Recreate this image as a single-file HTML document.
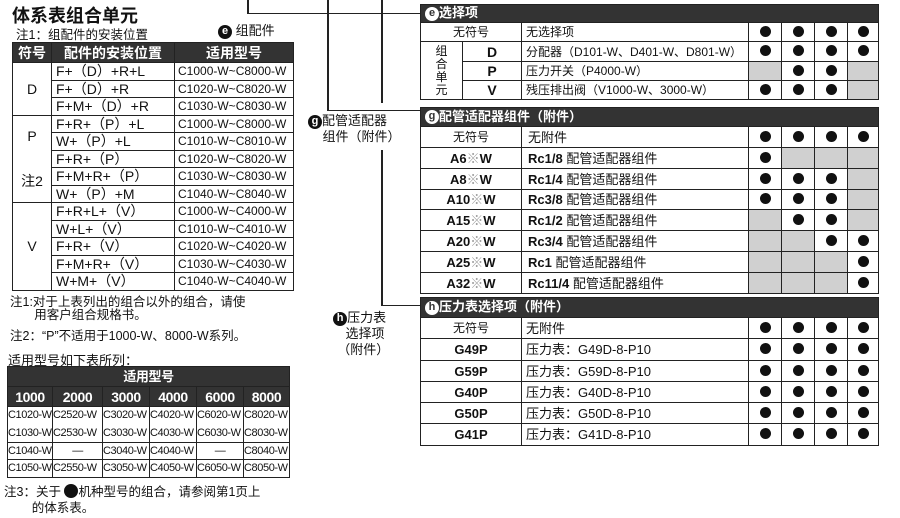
<!DOCTYPE html>
<html><head><meta charset="utf-8"><style>
*{margin:0;padding:0;box-sizing:border-box}
body{width:900px;height:518px;background:#fff;position:relative;overflow:hidden;font-family:"Liberation Sans","Noto Sans CJK SC",sans-serif;color:#111}
.a{position:absolute;white-space:nowrap}
table{border-collapse:collapse;table-layout:fixed;position:absolute}
td{border:1px solid #222;padding:0;overflow:hidden;white-space:nowrap;line-height:1}
.hd td{background:#333;color:#fff;font-weight:bold;text-align:center;border-color:#222}
.c{text-align:center}
.g{background:#d0d0d0}
.dot{display:inline-block;width:11px;height:11px;border-radius:50%;background:#111}
.ln{position:absolute;background:#222}
.circ{display:inline-block;width:14px;height:14px;border-radius:50%;background:#111;color:#fff;font-size:11px;font-weight:bold;text-align:center;line-height:13px;vertical-align:middle}
.hh td{background:#333;color:#fff;font-weight:bold;text-align:left;padding-left:4px;font-size:13px}
.lt td.p{padding-left:4px;font-size:14px}
</style></head><body>

<div class="a" style="left:12px;top:2px;font-size:18px;font-weight:bold">体系表组合单元</div>
<div class="a" style="left:16px;top:24px;font-size:12.5px">注1：组配件的安装位置</div>
<div class="a" style="left:218px;top:20px;font-size:13px"><span class="circ">e</span> 组配件</div>

<table class="lt" style="left:12px;top:42px;width:281px;font-size:13px;border:1.5px solid #222">
<colgroup><col style="width:39px"><col style="width:123px"><col style="width:119px"></colgroup>
<tr class="hd" style="height:20px"><td style="font-size:14px">符号</td><td style="font-size:14px">配件的安装位置</td><td style="font-size:14px">适用型号</td></tr>
<tr style="height:17.5px"><td rowspan="3" class="c" style="font-size:14px">D</td><td class="p">F+（D）+R+L</td><td style="padding-left:3px;font-size:12px">C1000-W~C8000-W</td></tr>
<tr style="height:17.5px"><td class="p">F+（D）+R</td><td style="padding-left:3px;font-size:12px">C1020-W~C8020-W</td></tr>
<tr style="height:17.5px"><td class="p">F+M+（D）+R</td><td style="padding-left:3px;font-size:12px">C1030-W~C8030-W</td></tr>
<tr style="height:17.5px"><td rowspan="5" class="c" style="line-height:1.6;font-size:14px">P<br><br>注2</td><td class="p">F+R+（P）+L</td><td style="padding-left:3px;font-size:12px">C1000-W~C8000-W</td></tr>
<tr style="height:17.5px"><td class="p">W+（P）+L</td><td style="padding-left:3px;font-size:12px">C1010-W~C8010-W</td></tr>
<tr style="height:17.5px"><td class="p">F+R+（P）</td><td style="padding-left:3px;font-size:12px">C1020-W~C8020-W</td></tr>
<tr style="height:17.5px"><td class="p">F+M+R+（P）</td><td style="padding-left:3px;font-size:12px">C1030-W~C8030-W</td></tr>
<tr style="height:17.5px"><td class="p">W+（P）+M</td><td style="padding-left:3px;font-size:12px">C1040-W~C8040-W</td></tr>
<tr style="height:17.5px"><td rowspan="5" class="c" style="font-size:14px">V</td><td class="p">F+R+L+（V）</td><td style="padding-left:3px;font-size:12px">C1000-W~C4000-W</td></tr>
<tr style="height:17.5px"><td class="p">W+L+（V）</td><td style="padding-left:3px;font-size:12px">C1010-W~C4010-W</td></tr>
<tr style="height:17.5px"><td class="p">F+R+（V）</td><td style="padding-left:3px;font-size:12px">C1020-W~C4020-W</td></tr>
<tr style="height:17.5px"><td class="p">F+M+R+（V）</td><td style="padding-left:3px;font-size:12px">C1030-W~C4030-W</td></tr>
<tr style="height:17.5px"><td class="p">W+M+（V）</td><td style="padding-left:3px;font-size:12px">C1040-W~C4040-W</td></tr>
</table>

<div class="a" style="left:10px;top:296px;font-size:12.5px;line-height:13px">注1:对于上表列出的组合以外的组合，请使<br>&nbsp;&nbsp;&nbsp;&nbsp;&nbsp;&nbsp;&nbsp;用客户组合规格书。</div>
<div class="a" style="left:10px;top:325px;font-size:12.5px">注2：“P”不适用于1000-W、8000-W系列。</div>
<div class="a" style="left:8px;top:350px;font-size:13px">适用型号如下表所列：</div>

<table style="left:7px;top:366px;width:282px;font-size:11px;border:1.5px solid #222;letter-spacing:-0.4px">
<colgroup><col style="width:45px"><col style="width:50px"><col style="width:47px"><col style="width:47px"><col style="width:47px"><col style="width:46px"></colgroup>
<tr class="hd" style="height:20px"><td colspan="6" style="font-size:13px">适用型号</td></tr>
<tr class="hd" style="height:20px;font-size:14px"><td>1000</td><td>2000</td><td>3000</td><td>4000</td><td>6000</td><td>8000</td></tr>
<tr style="height:18px"><td style="border-bottom:none">C1020-W</td><td style="border-bottom:none">C2520-W</td><td style="border-bottom:none">C3020-W</td><td style="border-bottom:none">C4020-W</td><td style="border-bottom:none">C6020-W</td><td style="border-bottom:none">C8020-W</td></tr>
<tr style="height:18px"><td style="border-top:none">C1030-W</td><td style="border-top:none">C2530-W</td><td style="border-top:none">C3030-W</td><td style="border-top:none">C4030-W</td><td style="border-top:none">C6030-W</td><td style="border-top:none">C8030-W</td></tr>
<tr style="height:17px"><td>C1040-W</td><td class="c">—</td><td>C3040-W</td><td>C4040-W</td><td class="c">—</td><td>C8040-W</td></tr>
<tr style="height:18px"><td>C1050-W</td><td>C2550-W</td><td>C3050-W</td><td>C4050-W</td><td>C6050-W</td><td>C8050-W</td></tr>
</table>

<div class="a" style="left:4px;top:484px;font-size:12.5px;line-height:16px">注3：关于 <span class="dot" style="width:14px;height:14px;vertical-align:-2px"></span>机种型号的组合，请参阅第1页上<br>&nbsp;&nbsp;&nbsp;&nbsp;&nbsp;&nbsp;&nbsp;&nbsp;的体系表。</div>

<!-- connector lines -->
<div class="ln" style="left:247px;top:0;width:1.5px;height:14px"></div>
<div class="ln" style="left:247px;top:12.5px;width:173px;height:1.5px"></div>
<div class="ln" style="left:327px;top:0;width:1.5px;height:111px"></div>
<div class="ln" style="left:327px;top:109.5px;width:93px;height:1.5px"></div>
<div class="ln" style="left:381px;top:0;width:1.5px;height:103px"></div>
<div class="ln" style="left:381px;top:150px;width:1.5px;height:156px"></div>
<div class="ln" style="left:381px;top:304.5px;width:39px;height:1.5px"></div>

<div class="a" style="left:308px;top:113px;font-size:13px;line-height:16px"><span class="circ">g</span>配管适配器<br>&nbsp;&nbsp;&nbsp;&nbsp;组件（附件）</div>
<div class="a" style="left:330px;top:310px;font-size:13px;line-height:16px;text-align:center"><span class="circ">h</span>压力表<br>&nbsp;&nbsp;&nbsp;选择项<br>&nbsp;&nbsp;（附件）</div>

<!-- e table -->
<table style="left:420px;top:4px;width:458px;font-size:12px;border:1.5px solid #222">
<colgroup><col style="width:42px"><col style="width:59px"><col style="width:227px"><col style="width:33px"><col style="width:33px"><col style="width:33px"><col style="width:31px"></colgroup>
<tr class="hh" style="height:18px"><td colspan="7"><span class="circ" style="background:#fff;color:#333">e</span>选择项</td></tr>
<tr style="height:19px"><td colspan="2" class="c">无符号</td><td style="padding-left:4px">无选择项</td><td class="c"><span class="dot"></span></td><td class="c"><span class="dot"></span></td><td class="c"><span class="dot"></span></td><td class="c"><span class="dot"></span></td></tr>
<tr style="height:20px"><td rowspan="3" class="c" style="line-height:13px;font-size:12px">组<br>合<br>单<br>元</td><td class="c" style="font-weight:bold;font-size:14px">D</td><td style="padding-left:4px">分配器（D101-W、D401-W、D801-W）</td><td class="c"><span class="dot"></span></td><td class="c"><span class="dot"></span></td><td class="c"><span class="dot"></span></td><td class="c"><span class="dot"></span></td></tr>
<tr style="height:19px"><td class="c" style="font-weight:bold;font-size:14px">P</td><td style="padding-left:4px">压力开关（P4000-W）</td><td class="g"></td><td class="c"><span class="dot"></span></td><td class="c"><span class="dot"></span></td><td class="g"></td></tr>
<tr style="height:19px"><td class="c" style="font-weight:bold;font-size:14px">V</td><td style="padding-left:4px">残压排出阀（V1000-W、3000-W）</td><td class="c"><span class="dot"></span></td><td class="c"><span class="dot"></span></td><td class="c"><span class="dot"></span></td><td class="g"></td></tr>
</table>

<!-- g table -->
<table style="left:420px;top:107px;width:458px;font-size:13px;border:1.5px solid #222">
<colgroup><col style="width:101px"><col style="width:227px"><col style="width:33px"><col style="width:33px"><col style="width:33px"><col style="width:31px"></colgroup>
<tr class="hh" style="height:19px"><td colspan="6"><span class="circ" style="background:#fff;color:#333">g</span>配管适配器组件（附件）</td></tr>
<tr style="height:21px"><td class="c" style="font-size:12px">无符号</td><td style="padding-left:6px">无附件</td><td class="c"><span class="dot"></span></td><td class="c"><span class="dot"></span></td><td class="c"><span class="dot"></span></td><td class="c"><span class="dot"></span></td></tr>
<tr style="height:21px"><td class="c" style="font-weight:bold">A6<span style="color:#999">※</span>W</td><td style="padding-left:6px"><b>Rc1/8</b> 配管适配器组件</td><td class="c"><span class="dot"></span></td><td class="g"></td><td class="g"></td><td class="g"></td></tr>
<tr style="height:21px"><td class="c" style="font-weight:bold">A8<span style="color:#999">※</span>W</td><td style="padding-left:6px"><b>Rc1/4</b> 配管适配器组件</td><td class="c"><span class="dot"></span></td><td class="c"><span class="dot"></span></td><td class="c"><span class="dot"></span></td><td class="g"></td></tr>
<tr style="height:20px"><td class="c" style="font-weight:bold">A10<span style="color:#999">※</span>W</td><td style="padding-left:6px"><b>Rc3/8</b> 配管适配器组件</td><td class="c"><span class="dot"></span></td><td class="c"><span class="dot"></span></td><td class="c"><span class="dot"></span></td><td class="g"></td></tr>
<tr style="height:21px"><td class="c" style="font-weight:bold">A15<span style="color:#999">※</span>W</td><td style="padding-left:6px"><b>Rc1/2</b> 配管适配器组件</td><td class="g"></td><td class="c"><span class="dot"></span></td><td class="c"><span class="dot"></span></td><td class="g"></td></tr>
<tr style="height:21px"><td class="c" style="font-weight:bold">A20<span style="color:#999">※</span>W</td><td style="padding-left:6px"><b>Rc3/4</b> 配管适配器组件</td><td class="g"></td><td class="g"></td><td class="c"><span class="dot"></span></td><td class="c"><span class="dot"></span></td></tr>
<tr style="height:21px"><td class="c" style="font-weight:bold">A25<span style="color:#999">※</span>W</td><td style="padding-left:6px"><b>Rc1</b> 配管适配器组件</td><td class="g"></td><td class="g"></td><td class="g"></td><td class="c"><span class="dot"></span></td></tr>
<tr style="height:21px"><td class="c" style="font-weight:bold">A32<span style="color:#999">※</span>W</td><td style="padding-left:6px"><b>Rc11/4</b> 配管适配器组件</td><td class="g"></td><td class="g"></td><td class="g"></td><td class="c"><span class="dot"></span></td></tr>
</table>

<!-- h table -->
<table style="left:420px;top:297px;width:458px;font-size:13px;border:1.5px solid #222">
<colgroup><col style="width:101px"><col style="width:227px"><col style="width:33px"><col style="width:33px"><col style="width:33px"><col style="width:31px"></colgroup>
<tr class="hh" style="height:20px"><td colspan="6"><span class="circ" style="background:#fff;color:#333">h</span>压力表选择项（附件）</td></tr>
<tr style="height:21px"><td class="c" style="font-size:12px">无符号</td><td style="padding-left:4px">无附件</td><td class="c"><span class="dot"></span></td><td class="c"><span class="dot"></span></td><td class="c"><span class="dot"></span></td><td class="c"><span class="dot"></span></td></tr>
<tr style="height:22px"><td class="c" style="font-weight:bold">G49P</td><td style="padding-left:4px">压力表：G49D-8-P10</td><td class="c"><span class="dot"></span></td><td class="c"><span class="dot"></span></td><td class="c"><span class="dot"></span></td><td class="c"><span class="dot"></span></td></tr>
<tr style="height:21px"><td class="c" style="font-weight:bold">G59P</td><td style="padding-left:4px">压力表：G59D-8-P10</td><td class="c"><span class="dot"></span></td><td class="c"><span class="dot"></span></td><td class="c"><span class="dot"></span></td><td class="c"><span class="dot"></span></td></tr>
<tr style="height:21px"><td class="c" style="font-weight:bold">G40P</td><td style="padding-left:4px">压力表：G40D-8-P10</td><td class="c"><span class="dot"></span></td><td class="c"><span class="dot"></span></td><td class="c"><span class="dot"></span></td><td class="c"><span class="dot"></span></td></tr>
<tr style="height:21px"><td class="c" style="font-weight:bold">G50P</td><td style="padding-left:4px">压力表：G50D-8-P10</td><td class="c"><span class="dot"></span></td><td class="c"><span class="dot"></span></td><td class="c"><span class="dot"></span></td><td class="c"><span class="dot"></span></td></tr>
<tr style="height:22px"><td class="c" style="font-weight:bold">G41P</td><td style="padding-left:4px">压力表：G41D-8-P10</td><td class="c"><span class="dot"></span></td><td class="c"><span class="dot"></span></td><td class="c"><span class="dot"></span></td><td class="c"><span class="dot"></span></td></tr>
</table>

</body></html>
